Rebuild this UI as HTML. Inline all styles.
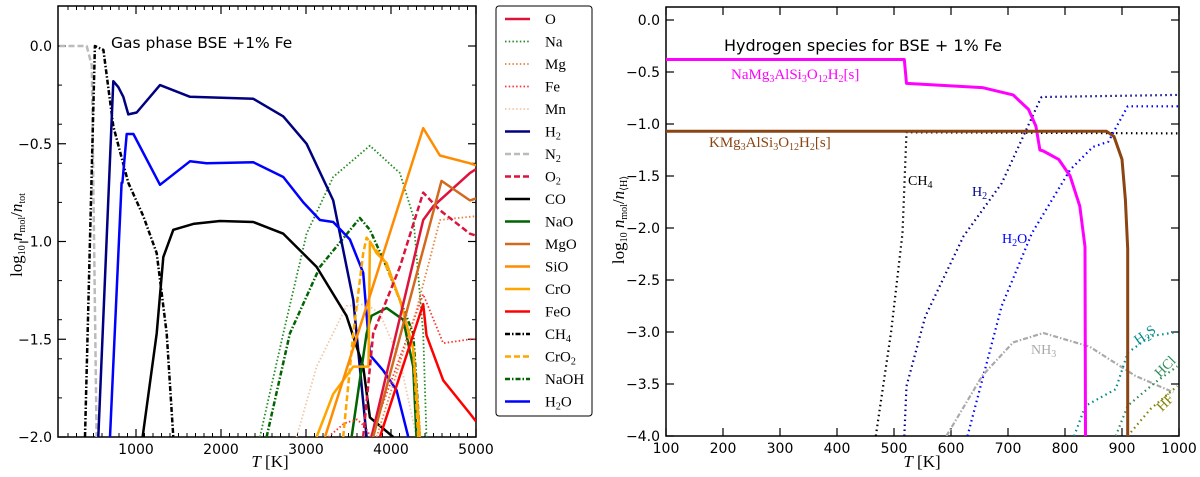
<!DOCTYPE html>
<html><head><meta charset="utf-8"><style>
body{margin:0;background:#fff;}
svg{display:block;font-family:"DejaVu Sans","Liberation Sans",sans-serif;}
.ser{font-family:"Liberation Serif","DejaVu Serif",serif;}
</style></head><body>
<svg id="fig" width="1200" height="477" viewBox="0 0 1200 477"></svg>
<script>
// ---- Left chart data (T in K, log10 n/ntot) ----
const leftT_H2=[557,733,792,851,910,1008,1282,1635,2380,2733,3007,3320,3556,3713];
const leftV_H2=[-2,-0.18,-0.21,-0.26,-0.35,-0.34,-0.20,-0.26,-0.27,-0.36,-0.50,-0.79,-1.30,-2.0];
const leftT_H2O=[694,831,840,890,969,1282,1635,1830,2380,2733,2968,3164,3320,3516,3673,3752,3908,4065,4203];
const leftV_H2O=[-2,-0.70,-0.70,-0.45,-0.45,-0.71,-0.59,-0.60,-0.595,-0.67,-0.80,-0.89,-0.90,-0.99,-1.16,-1.58,-1.66,-1.76,-2.0];
const leftT_CO=[1078,1243,1321,1439,1674,1988,2380,2733,3125,3477,3673,3752,4026];
const leftV_CO=[-2,-1.47,-1.08,-0.94,-0.91,-0.895,-0.90,-0.96,-1.13,-1.38,-1.64,-1.90,-2.0];
const leftT_CH4=[400,517,616,733,910,1086,1243,1361,1439];
const leftV_CH4=[-2,0,-0.02,-0.41,-0.70,-0.87,-1.06,-1.47,-2.0];
const leftT_N2=[100,420,480,537];
const leftV_N2=[0,0,-0.1,-2.0];
const leftT_Na=[2458,2733,3007,3320,3752,4105,4261,4379,4418];
const leftV_Na=[-2,-1.47,-0.96,-0.67,-0.51,-0.65,-0.87,-1.47,-2];
const leftT_NaOH=[2537,2811,3164,3634,3752,3948,4105,4261,4340];
const leftV_NaOH=[-2,-1.47,-1.13,-0.88,-0.94,-1.13,-1.30,-1.47,-2];
const leftT_NaO=[3536,3713,3771,3948,4144,4261,4300];
const leftV_NaO=[-2,-1.47,-1.38,-1.34,-1.40,-1.64,-2];
const leftT_SiO=[3223,4379,4575,4928,5000];
const leftV_SiO=[-2,-0.42,-0.56,-0.60,-0.61];
const leftT_CrO=[3125,3320,3556,3735,3752,3830,3948,4105,4261,4340];
const leftV_CrO=[-2,-1.78,-1.64,-1.64,-1.0,-1.06,-1.11,-1.30,-1.55,-2];
const leftT_CrO2=[3438,3556,3673,3713,3908,4105,4261,4320];
const leftV_CrO2=[-2,-1.47,-1.06,-0.98,-1.09,-1.30,-1.55,-2];
const leftT_O=[3771,4379,4497,4928,5000];
const leftV_O=[-2,-0.89,-0.82,-0.65,-0.63];
const leftT_O2=[3673,3791,4105,4379,4575,4928,5000];
const leftV_O2=[-2,-1.47,-1.13,-0.75,-0.84,-0.96,-0.97];
const leftT_MgO=[3791,4594,4928,5000];
const leftV_MgO=[-2,-0.69,-0.79,-0.78];
const leftT_Mg=[3830,4300,4576,5000];
const leftV_Mg=[-2,-1.35,-0.89,-0.87];
const leftT_Fe=[3262,3450,3600,3700,3760,4379,4614,4928,5000];
const leftV_Fe=[-2,-1.93,-1.91,-1.95,-2.0,-1.27,-1.52,-1.50,-1.50];
const leftT_FeO=[3869,4379,4418,4614,4928,5000];
const leftV_FeO=[-2,-1.32,-1.48,-1.71,-1.88,-1.92];
const leftT_Mn=[2890,3125,3477,3713,3869,4100,4300];
const leftV_Mn=[-2,-1.64,-1.33,-1.32,-1.37,-1.6,-2];
// ---- Right chart data (T in K, log10 n/n<H>) ----
const rightT_NaPhl=[100,518,522,655,709,736,749,756,762,789,809,826,835,836];
const rightV_NaPhl=[-0.38,-0.38,-0.61,-0.65,-0.72,-0.86,-1.02,-1.25,-1.26,-1.34,-1.50,-1.79,-2.18,-4];
const rightT_KPhl=[100,873,886,900,906,910,910];
const rightV_KPhl=[-1.07,-1.07,-1.12,-1.34,-1.73,-2.2,-4];
const rightT_CH4=[468,495,515,522,1000];
const rightV_CH4=[-4,-3.0,-2.05,-1.08,-1.09];
const rightT_H2=[518,522,555,622,689,756,759,1000];
const rightV_H2=[-4,-3.52,-2.85,-2.08,-1.57,-0.77,-0.74,-0.72];
const rightT_H2O=[629,689,742,809,849,876,910,1000];
const rightV_H2O=[-4,-2.75,-2.05,-1.44,-1.22,-1.17,-0.83,-0.83];
const rightT_NH3=[592,655,709,762,843,923,990];
const rightV_NH3=[-4,-3.42,-3.10,-3.01,-3.14,-3.42,-3.58];
const rightT_H2S=[816,836,889,910,950,997];
const rightV_H2S=[-4,-3.71,-3.55,-3.2,-3.04,-3.0];
const rightT_HCl=[889,910,957,997];
const rightV_HCl=[-4,-3.71,-3.49,-3.33];
const rightT_HF=[910,950,997];
const rightV_HF=[-4,-3.74,-3.52];
const leftXTicks=[1000,2000,3000,4000,5000];
const leftYTicks=[0,-0.5,-1,-1.5,-2];
const rightXTicks=[100,200,300,400,500,600,700,800,900,1000];
const rightYTicks=[0,-0.5,-1,-1.5,-2,-2.5,-3,-3.5,-4];

const NS='http://www.w3.org/2000/svg';
const svg=document.getElementById('fig');
function mk(tag,at,parent){const e=document.createElementNS(NS,tag);for(const k in at)e.setAttribute(k,at[k]);(parent||svg).appendChild(e);return e;}
const LX=t=>136+(t-1000)*0.085, LY=v=>46-v*195.5;
const RX=t=>666+(t-100)*0.57, RY=v=>20-v*104;
const DOT='1.5,2.2', DASH='6,3', DD='5,2,1.5,2', RDOT='1.5,3.5';
function series(T,V,fx,fy,color,w,dash,name,clipId){
  const d=T.map((t,i)=>(i?'L':'M')+fx(t).toFixed(1)+','+fy(V[i]).toFixed(1)).join('');
  const p=mk('path',{d:d,fill:'none',stroke:color,'stroke-width':w,'stroke-linejoin':'round','clip-path':'url(#'+clipId+')'});
  if(dash)p.setAttribute('stroke-dasharray',dash);
  
  
}
const defs=mk('defs',{});
const c1=mk('clipPath',{id:'cl'},defs);mk('rect',{x:58,y:6,width:418,height:431},c1);
const c2=mk('clipPath',{id:'cr'},defs);mk('rect',{x:666,y:7,width:513,height:429},c2);

function axes(x0,y0,x1,y1,xt,yt,fx,fy,xminor,yminor,prefix,fmtX,fmtY){
  const g=mk('g',{});
  
  
  mk('rect',{x:x0,y:y0,width:x1-x0,height:y1-y0,fill:'none',stroke:'#000','stroke-width':1.5},g);
  xminor.forEach(t=>{const x=fx(t);mk('line',{x1:x,x2:x,y1:y1,y2:y1-4,stroke:'#000','stroke-width':1},g);mk('line',{x1:x,x2:x,y1:y0,y2:y0+4,stroke:'#000','stroke-width':1},g);});
  yminor.forEach(v=>{const y=fy(v);mk('line',{x1:x0,x2:x0+4,y1:y,y2:y,stroke:'#000','stroke-width':1},g);mk('line',{x1:x1,x2:x1-4,y1:y,y2:y,stroke:'#000','stroke-width':1},g);});
  xt.forEach(t=>{const x=fx(t);mk('line',{x1:x,x2:x,y1:y1,y2:y1-8,stroke:'#000','stroke-width':1.2},g);mk('line',{x1:x,x2:x,y1:y0,y2:y0+8,stroke:'#000','stroke-width':1.2},g);
    const tx=mk('text',{x:x,y:y1+17,'text-anchor':'middle','font-size':14},g);tx.textContent=fmtX(t);
    });
  yt.forEach(v=>{const y=fy(v);mk('line',{x1:x0,x2:x0+8,y1:y,y2:y,stroke:'#000','stroke-width':1.2},g);mk('line',{x1:x1,x2:x1-8,y1:y,y2:y,stroke:'#000','stroke-width':1.2},g);
    const tx=mk('text',{x:x0-6,y:y+5,'text-anchor':'end','font-size':14},g);tx.textContent=fmtY(v);
    });
}
const fmtY=v=>(v<0?'\u2212':'')+Math.abs(v).toFixed(1);
const lxm=[],lym=[],rxm=[];
for(let t=200;t<=5000;t+=100)lxm.push(t);
for(let v=0;v>=-2.0001;v-=0.2)lym.push(v);
axes(58,6,476,437,leftXTicks,leftYTicks,LX,LY,lxm,lym,'left',t=>String(t),fmtY);
axes(666,7,1179,436,rightXTicks,rightYTicks,RX,RY,rxm,[],'right',t=>String(t),fmtY);

const L=[
 [leftT_N2,leftV_N2,'#bbbbbb',2.5,DASH,'n2-line'],
 [leftT_CH4,leftV_CH4,'#000',2.5,DD,'ch4-line'],
 [leftT_Mn,leftV_Mn,'#f0c8a8',1.8,DOT,'mn-line'],
 [leftT_Na,leftV_Na,'#228b22',1.8,DOT,'na-line'],
 [leftT_NaOH,leftV_NaOH,'#006400',2.5,DD,'naoh-line'],
 [leftT_H2,leftV_H2,'#000080',2.5,null,'h2-line'],
 [leftT_H2O,leftV_H2O,'#0000ff',2.5,null,'h2o-line'],
 [leftT_CO,leftV_CO,'#000',2.5,null,'co-line'],
 [leftT_NaO,leftV_NaO,'#006400',2.5,null,'nao-line'],
 [leftT_Fe,leftV_Fe,'#ff3030',1.8,DOT,'fe-line'],
 [leftT_Mg,leftV_Mg,'#e8823c',1.8,DOT,'mg-line'],
 [leftT_CrO2,leftV_CrO2,'#ffa500',2.5,DASH,'cro2-line'],
 [leftT_CrO,leftV_CrO,'#ffa500',2.5,null,'cro-line'],
 [leftT_SiO,leftV_SiO,'#ff8c00',2.5,null,'sio-line'],
 [leftT_O2,leftV_O2,'#dc143c',2.5,DASH,'o2-line'],
 [leftT_O,leftV_O,'#dc143c',2.5,null,'o-line'],
 [leftT_MgO,leftV_MgO,'#d2691e',2.5,null,'mgo-line'],
 [leftT_FeO,leftV_FeO,'#ff0000',2.5,null,'feo-line']
];
L.forEach(s=>series(s[0],s[1],LX,LY,s[2],s[3],s[4],s[5],'cl'));
const R=[
 [rightT_CH4,rightV_CH4,'#000',2.2,RDOT,'r-ch4-line'],
 [rightT_H2,rightV_H2,'#00008b',2.2,RDOT,'r-h2-line'],
 [rightT_H2O,rightV_H2O,'#0000ff',2.2,RDOT,'r-h2o-line'],
 [rightT_NH3,rightV_NH3,'#aaaaaa',2.2,DD,'r-nh3-line'],
 [rightT_H2S,rightV_H2S,'#008b8b',2.2,RDOT,'r-h2s-line'],
 [rightT_HCl,rightV_HCl,'#2e8b57',2.2,RDOT,'r-hcl-line'],
 [rightT_HF,rightV_HF,'#808000',2.2,RDOT,'r-hf-line'],
 [rightT_NaPhl,rightV_NaPhl,'#ff00ff',3,null,'na-phlogopite-line'],
 [rightT_KPhl,rightV_KPhl,'#8b4513',3,null,'k-phlogopite-line']
];
R.forEach(s=>series(s[0],s[1],RX,RY,s[2],s[3],s[4],s[5],'cr'));

const sub=s=>'<tspan font-size="10" baseline-shift="-3">'+s+'</tspan>';
const legNames=['O','Na','Mg','Fe','Mn','H'+sub('2'),'N'+sub('2'),'O'+sub('2'),'CO','NaO','MgO','SiO','CrO','FeO','CH'+sub('4'),'CrO'+sub('2'),'NaOH','H'+sub('2')+'O'];
const legColors=['#dc143c','#228b22','#e8823c','#ff3030','#f0c8a8','#000080','#bbbbbb','#dc143c','#000','#006400','#d2691e','#ff8c00','#ffa500','#ff0000','#000','#ffa500','#006400','#0000ff'];
const legDash=[null,DOT,DOT,DOT,DOT,null,DASH,DASH,null,null,null,null,null,null,DD,DASH,DD,null];
const lg=mk('g',{});


mk('rect',{x:496,y:6,width:96,height:410,rx:3,fill:'#fff',stroke:'#000','stroke-width':1},lg);
legNames.forEach((n,i)=>{
  const y=19+i*22.5;
  const ln=mk('line',{x1:505,x2:530,y1:y,y2:y,stroke:legColors[i],'stroke-width':(legDash[i]===DOT?1.8:2.5)},lg);
  if(legDash[i])ln.setAttribute('stroke-dasharray',legDash[i]);
  const t=mk('text',{x:545,y:y+5,'font-size':15,class:'ser'},lg);t.innerHTML=n;
  
  
});

function txt(x,y,html,size,color,cls,name,extra){
  const t=mk('text',Object.assign({x:x,y:y,'font-size':size,fill:color},extra||{}));
  if(cls)t.setAttribute('class',cls);
  t.innerHTML=html;
  
  
  return t;
}
txt(111,48,'Gas phase BSE +1% Fe',15.5,'#000',null,'left-title');
txt(724,51,'Hydrogen species for BSE + 1% Fe',16,'#000',null,'right-title');
txt(270,467,'<tspan font-style="italic">T</tspan> [K]',17,'#000','ser','left-x-axis-title',{'text-anchor':'middle'});
txt(922,467,'<tspan font-style="italic">T</tspan> [K]',17,'#000','ser','right-x-axis-title',{'text-anchor':'middle'});
txt(0,0,'log'+sub('10')+' <tspan font-style="italic">n</tspan>'+sub('mol')+'/<tspan font-style="italic">n</tspan>'+sub('tot'),17,'#000','ser','left-y-axis-title',{transform:'translate(22,235) rotate(-90)','text-anchor':'middle'});
txt(0,0,'log'+sub('10')+' <tspan font-style="italic">n</tspan>'+sub('mol')+'/<tspan font-style="italic">n</tspan>'+sub('⟨H⟩'),17,'#000','ser','right-y-axis-title',{transform:'translate(624,220) rotate(-90)','text-anchor':'middle'});
txt(731,79,'NaMg'+sub('3')+'AlSi'+sub('3')+'O'+sub('12')+'H'+sub('2')+'[s]',15,'#ff00ff','ser','na-phlogopite-label');
txt(709,147,'KMg'+sub('3')+'AlSi'+sub('3')+'O'+sub('12')+'H'+sub('2')+'[s]',15,'#8b4513','ser','k-phlogopite-label');
txt(908,185,'CH'+sub('4'),14,'#000','ser','ch4-label');
txt(972,196,'H'+sub('2'),14,'#00008b','ser','h2-label');
txt(1002,243,'H'+sub('2')+'O',14,'#0000ff','ser','h2o-label');
txt(1031,354,'NH'+sub('3'),14,'#aaaaaa','ser','nh3-label');
txt(0,0,'H'+sub('2')+'S',14,'#008b8b','ser','h2s-label',{transform:'translate(1138,345) rotate(-35)'});
txt(0,0,'HCl',14,'#2e8b57','ser','hcl-label',{transform:'translate(1160,378) rotate(-45)'});
txt(0,0,'HF',14,'#808000','ser','hf-label',{transform:'translate(1162,412) rotate(-45)'});
</script>
</body></html>
